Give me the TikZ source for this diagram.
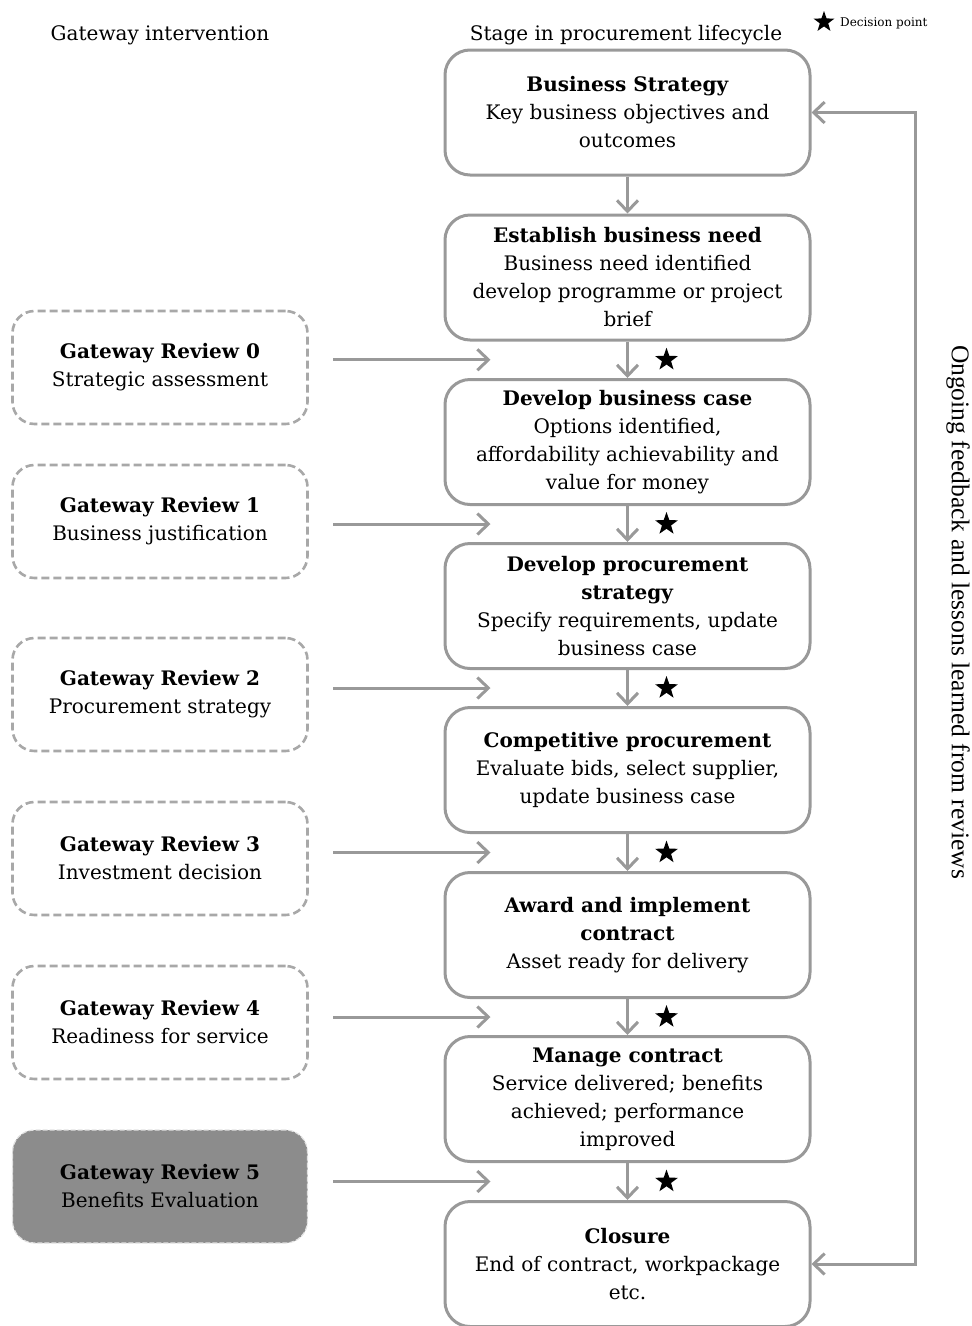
\documentclass[tikz,border=0pt]{standalone}
\usepackage{fontspec}
\setmainfont{DejaVu Serif}
\newfontfamily\sidefont{Liberation Serif}
\usetikzlibrary{arrows.meta,shapes.geometric,calc}
\definecolor{linegray}{HTML}{999999}
\definecolor{fillgray}{HTML}{8C8C8C}
\tikzset{
  x=1pt,y=-1pt,
  every node/.style={inner sep=0pt},
  bodytext/.style={font=\fontsize{20}{28}\selectfont},
  stagebox/.style={draw=linegray,line width=3pt,rounded corners=25pt,
    minimum width=365pt,minimum height=125pt,align=center,bodytext},
  reviewbox/.style={draw=linegray!85,line width=2.6pt,dash pattern=on 8pt off 4pt,
    rounded corners=22pt,minimum width=295pt,minimum height=113pt,align=center,bodytext},
  finalbox/.style={reviewbox,fill=fillgray,draw=white!75!fillgray,line width=1.2pt,
    dash pattern=on 5pt off 2pt},
  flow/.style={draw=linegray,line width=3pt,
    -{Straight Barb[length=11pt,width=21pt,line width=3pt]}},
  feedback/.style={draw=linegray,line width=3pt,
    {Straight Barb[length=11pt,width=21pt,line width=3pt]}-{Straight Barb[length=11pt,width=21pt,line width=3pt]}},
  decision/.style={star,star points=5,star point ratio=2.5,fill=black,minimum size=24pt}
}
\begin{document}
\begin{tikzpicture}
\useasboundingbox (0,0) rectangle (972,1326);

% column headings and legend
\node[bodytext] (hleft) at (160,35) {Gateway intervention};
\node[bodytext] (hright) at (626,35) {Stage in procurement lifecycle};
\node[decision,minimum size=22pt] (legstar) at (824,22) {};
\node[font=\fontsize{12}{14}\selectfont,anchor=west] (legtext) at (840,23) {Decision point};

% procurement lifecycle stages
\node[stagebox] (s1) at (627.5,112.5) {\textbf{Business Strategy}\\Key business objectives and\\outcomes};
\node[stagebox] (s2) at (627.5,277.5) {\textbf{Establish business need}\\Business need identified\\develop programme or project\\brief};
\node[stagebox] (s3) at (627.5,442) {\textbf{Develop business case}\\Options identified,\\affordability achievability and\\value for money};
\node[stagebox] (s4) at (627.5,606) {\textbf{Develop procurement}\\\textbf{strategy}\\Specify requirements, update\\business case};
\node[stagebox] (s5) at (627.5,770) {\textbf{Competitive procurement}\\Evaluate bids, select supplier,\\update business case};
\node[stagebox] (s6) at (627.5,935) {\textbf{Award and implement}\\\textbf{contract}\\Asset ready for delivery};
\node[stagebox] (s7) at (627.5,1099) {\textbf{Manage contract}\\Service delivered; benefits\\achieved; performance\\improved};
\node[stagebox] (s8) at (627.5,1264) {\textbf{Closure}\\End of contract, workpackage\\etc.};

% flow between stages
\foreach \a/\b in {s1/s2,s2/s3,s3/s4,s4/s5,s5/s6,s6/s7,s7/s8}
  \draw[flow] (\a.south) -- (\b.north);

% gateway reviews
\node[reviewbox] (g0) at (160,367.5) {\textbf{Gateway Review 0}\\Strategic assessment};
\node[reviewbox] (g1) at (160,521.5) {\textbf{Gateway Review 1}\\Business justification};
\node[reviewbox] (g2) at (160,694.5) {\textbf{Gateway Review 2}\\Procurement strategy};
\node[reviewbox] (g3) at (160,858.5) {\textbf{Gateway Review 3}\\Investment decision};
\node[reviewbox] (g4) at (160,1022.5) {\textbf{Gateway Review 4}\\Readiness for service};
\node[finalbox] (g5) at (160,1186.5) {\textbf{Gateway Review 5}\\Benefits Evaluation};

% review arrows into the gaps between stages, with decision points
\foreach \g/\a/\b/\k in {g0/s2/s3/0,g1/s3/s4/1,g2/s4/s5/2,g3/s5/s6/3,g4/s6/s7/4,g5/s7/s8/5}{
  \coordinate (gap\k) at ($(\a.south)!0.5!(\b.north)$);
  \coordinate (tip\k) at ($(gap\k)+(-137,0)$);
  \coordinate (tail\k) at (333,0 |- gap\k);
  \draw[flow] (tail\k) -- (tip\k);
  \node[decision] (d\k) at ($(gap\k)+(39,0)$) {};
}

% feedback loop
\coordinate (fb) at (915,0);
\draw[feedback] (s8.east) -- (fb |- s8.east) -- (fb |- s1.east) -- (s1.east);
\node[font=\sidefont\fontsize{25.5}{30}\selectfont,rotate=-90] (fbtext) at (958,612)
  {Ongoing feedback and lessons learned from reviews};
\end{tikzpicture}
\end{document}
